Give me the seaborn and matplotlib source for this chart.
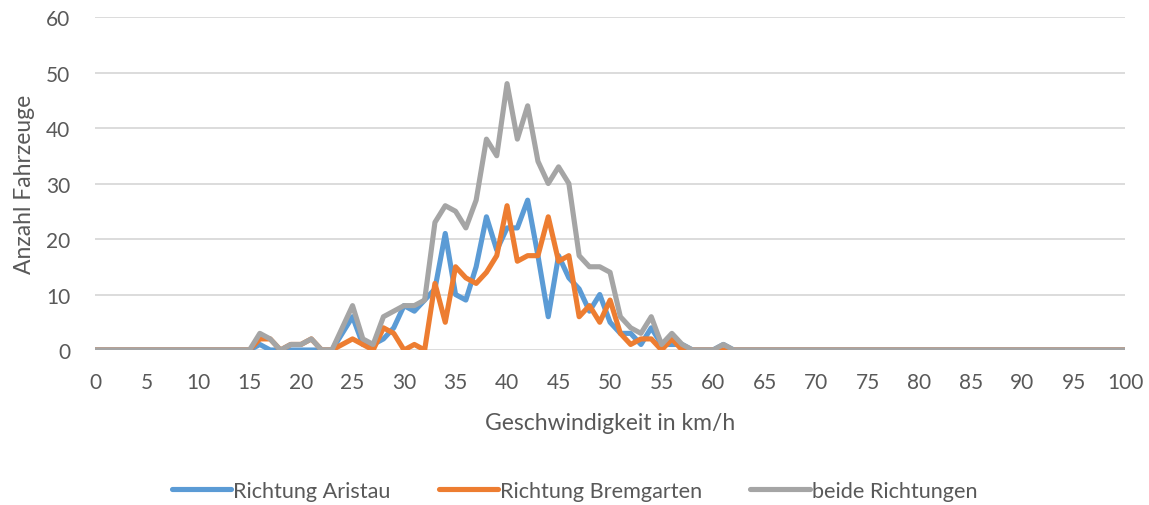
import numpy as np
import pandas as pd
import matplotlib
matplotlib.use("Agg")
import matplotlib.pyplot as plt
import seaborn as sns

speed = list(range(0, 101))

# values for speeds 0..100 (non-zero region given explicitly, rest zero)
aristau_nz = {16: 1, 17: 0, 24: 3, 25: 6, 26: 1, 27: 1, 28: 2, 29: 4, 30: 8, 31: 7, 32: 9,
              33: 11, 34: 21, 35: 10, 36: 9, 37: 15, 38: 24, 39: 18, 40: 22, 41: 22, 42: 27,
              43: 17, 44: 6, 45: 17, 46: 13, 47: 11, 48: 7, 49: 10, 50: 5, 51: 3, 52: 3,
              53: 1, 54: 4, 55: 1, 56: 1, 57: 1, 61: 1}
bremgarten_nz = {16: 2, 17: 2, 19: 1, 20: 1, 21: 2, 24: 1, 25: 2, 26: 1, 27: 0, 28: 4, 29: 3,
                 30: 0, 31: 1, 32: 0, 33: 12, 34: 5, 35: 15, 36: 13, 37: 12, 38: 14, 39: 17,
                 40: 26, 41: 16, 42: 17, 43: 17, 44: 24, 45: 16, 46: 17, 47: 6, 48: 8, 49: 5,
                 50: 9, 51: 3, 52: 1, 53: 2, 54: 2, 55: 0, 56: 2, 57: 0}
beide_nz = {16: 3, 17: 2, 18: 0, 19: 1, 20: 1, 21: 2, 24: 4, 25: 8, 26: 2, 27: 1, 28: 6, 29: 7,
            30: 8, 31: 8, 32: 9, 33: 23, 34: 26, 35: 25, 36: 22, 37: 27, 38: 38, 39: 35,
            40: 48, 41: 38, 42: 44, 43: 34, 44: 30, 45: 33, 46: 30, 47: 17, 48: 15, 49: 15,
            50: 14, 51: 6, 52: 4, 53: 3, 54: 6, 55: 1, 56: 3, 57: 1, 61: 1}

aristau = [aristau_nz.get(s, 0) for s in speed]
bremgarten = [bremgarten_nz.get(s, 0) for s in speed]
beide = [beide_nz.get(s, 0) for s in speed]

series_names = ["Richtung Aristau", "Richtung Bremgarten", "beide Richtungen"]
colors = ["#5B9BD5", "#ED7D31", "#A5A5A5"]
xticks = list(range(0, 101, 5))
yticks = list(range(0, 61, 10))

df = pd.DataFrame({
    "speed": speed * 3,
    "count": aristau + bremgarten + beide,
    "series": [series_names[0]] * len(speed) + [series_names[1]] * len(speed) + [series_names[2]] * len(speed),
})

sns.set_theme(style="white")
plt.rcParams["font.family"] = ["Lato", "DejaVu Sans"]
plt.rcParams["lines.solid_joinstyle"] = "round"
plt.rcParams["lines.solid_capstyle"] = "round"

fig = plt.figure(figsize=(11.49, 5.06), dpi=100)
ax = fig.add_axes([0.0827, 0.3063, 0.8965, 0.6581])

sns.lineplot(data=df, x="speed", y="count", hue="series", hue_order=series_names,
             palette=colors, linewidth=3.7, ax=ax, legend=True)

ax.set_xlim(0, 100)
ax.set_ylim(0, 60)
ax.set_xticks(xticks)
ax.set_yticks(yticks)
ax.tick_params(axis="both", length=0, labelsize=15, labelcolor="#595959")
ax.tick_params(axis="x", pad=16)
ax.tick_params(axis="y", pad=18)
ax.grid(axis="y", color="#D9D9D9", linewidth=1.3)
ax.set_axisbelow(True)
for sp in ax.spines.values():
    sp.set_visible(False)
ax.set_xlabel("Geschwindigkeit in km/h", fontsize=16.5, color="#595959")
ax.set_ylabel("Anzahl Fahrzeuge", fontsize=16.5, color="#595959")
ax.xaxis.set_label_coords(0.5, -0.185)
ax.yaxis.set_label_coords(-0.058, 0.5)

handles, labels = ax.get_legend_handles_labels()
ax.get_legend().remove()
fig.legend(handles, labels, loc="center", bbox_to_anchor=(0.5, 0.028), ncol=3, frameon=False,
           fontsize=15.6, labelcolor="#595959", handlelength=2.75, handletextpad=0.1,
           columnspacing=2.2)

fig.savefig("out.png", dpi=100)
